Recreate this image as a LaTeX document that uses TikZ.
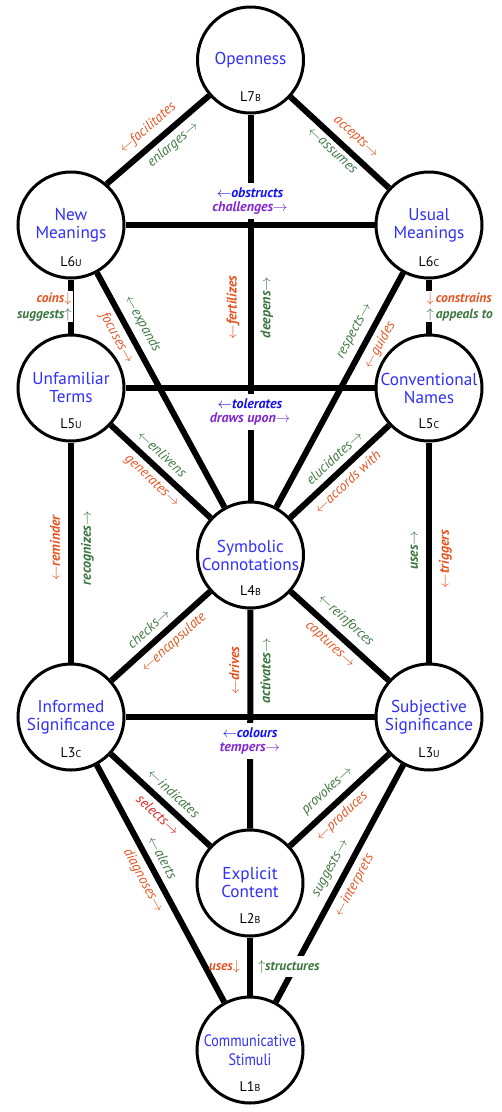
\documentclass[tikz,border=0pt]{standalone}
\usepackage{fontspec}
\setmainfont{PT Sans}
\newfontfamily\narrowfont[FakeStretch=0.85]{PT Sans}
\definecolor{tblue}{RGB}{48,48,250}
\definecolor{orng}{RGB}{232,84,32}
\definecolor{redd}{RGB}{228,28,28}
\definecolor{grn}{RGB}{60,118,62}
\definecolor{blu}{RGB}{20,20,240}
\definecolor{purp}{RGB}{130,40,210}
\newcommand{\arL}{$\leftarrow$}
\newcommand{\arR}{$\rightarrow$}
\newcommand{\arU}{$\uparrow$}
\newcommand{\arD}{$\downarrow$}
\newcommand{\lv}[2]{L#1{\fontsize{10}{10}\selectfont #2}}
\tikzset{
  circ/.style={circle, draw=black, line width=3pt, fill=white, minimum size=106pt, inner sep=0pt, align=center, text=tblue, font=\fontsize{17.2}{18}\selectfont},
  lvl/.style={inner sep=0pt, font=\fontsize{14}{14}\selectfont},
  conn/.style={line width=6pt},
  dl/.style={sloped, inner sep=1pt, font=\itshape\fontsize{14}{14}\selectfont},
  vl/.style={sloped, inner sep=1pt, font=\bfseries\itshape\fontsize{14}{14}\selectfont},
  hl/.style={inner xsep=1pt, inner ysep=4.5pt, fill=white, align=center, font=\bfseries\itshape\fontsize{14}{14}\selectfont},
  sl/.style={inner xsep=1pt, inner ysep=1pt, font=\bfseries\itshape\fontsize{13.5}{16}\selectfont}
}
\begin{document}
\begin{tikzpicture}[x=1pt,y=1pt]
\useasboundingbox (0,0) rectangle (502,-1112);
\fill[white] (0,0) rectangle (502,-1112);
% circles
\node[circ] (L7) at (250.5,-60) {Openness};
\node[circ] (L6u) at (71,-225) {New\\Meanings};
\node[circ] (L6c) at (429,-225) {Usual\\Meanings};
\node[circ] (L5u) at (71,-388) {Unfamiliar\\Terms};
\node[circ] (L5c) at (429,-388) {Conventional\\Names};
\node[circ] (L4) at (250.5,-555) {Symbolic\\Connotations};
\node[circ] (L3c) at (71,-717) {Informed\\Significance};
\node[circ] (L3u) at (429,-717) {Subjective\\Significance};
\node[circ] (L2) at (250,-883) {Explicit\\Content};
\node[circ, font=\narrowfont\fontsize{16.5}{18.5}\selectfont] (L1) at (250,-1050) {Communicative\\Stimuli};
% level labels
\node[lvl] (L7l) at (250.5,-97) {\lv{7}{B}};
\node[lvl] (L6ul) at (71,-262) {\lv{6}{U}};
\node[lvl] (L6cl) at (429,-262) {\lv{6}{C}};
\node[lvl] (L5ul) at (71,-424) {\lv{5}{U}};
\node[lvl] (L5cl) at (429,-424) {\lv{5}{C}};
\node[lvl] (L4l) at (250.5,-591) {\lv{4}{B}};
\node[lvl] (L3cl) at (71,-753) {\lv{3}{C}};
\node[lvl] (L3ul) at (429,-753) {\lv{3}{U}};
\node[lvl] (L2l) at (250,-919) {\lv{2}{B}};
\node[lvl] (L1l) at (250,-1087) {\lv{1}{B}};
% central verticals
\draw[conn] (L4) -- (L7)
  node[vl, pos=0.5, above=7pt, text=orng] {\arL fertilizes}
  node[vl, pos=0.5, below=6pt, text=grn] {deepens\arR};
\draw[conn] (L2) -- (L4)
  node[vl, pos=0.72, above=7pt, text=orng] {\arL drives}
  node[vl, pos=0.72, below=6pt, text=grn] {activates\arR};
% horizontals
\draw[conn] (L6u) -- (L6c)
  node[hl, pos=0.5, above=3pt] {\textcolor{blu}{\arL obstructs}\\\textcolor{purp}{challenges\arR}};
\draw[conn] (L5u) -- (L5c)
  node[hl, pos=0.5, below=3pt] {\textcolor{blu}{\arL tolerates}\\\textcolor{purp}{draws upon\arR}};
\draw[conn] (L3c) -- (L3u)
  node[hl, pos=0.5, below=3pt] {\textcolor{blu}{\arL colours}\\\textcolor{purp}{tempers\arR}};
% diagonals
\draw[conn] (L6u.49) -- (L7)
  node[dl, pos=0.50, above=5pt, text=orng] {\arL facilitates}
  node[dl, pos=0.56, below=3.5pt, text=grn] {enlarges\arR};
\draw[conn] (L7) -- (L6c)
  node[dl, pos=0.56, above=5pt, text=orng] {accepts\arR}
  node[dl, pos=0.50, below=3.5pt, text=grn] {\arL assumes};
\draw[conn] (L6u) -- (L4)
  node[dl, pos=0.25, above=5pt, text=grn] {\arL expands}
  node[dl, pos=0.25, below=3.5pt, text=orng] {focuses\arR};
\draw[conn] (L4) -- (L6c)
  node[dl, pos=0.72, above=5pt, text=grn] {respects\arR}
  node[dl, pos=0.72, below=3.5pt, text=orng] {\arL guides};
\draw[conn] (L5u) -- (L4)
  node[dl, pos=0.42, above=5pt, text=grn] {\arL enlivens}
  node[dl, pos=0.50, below=3.5pt, text=orng] {generates\arR};
\draw[conn] (L4) -- (L5c)
  node[dl, pos=0.54, above=5pt, text=grn] {elucidates\arR}
  node[dl, pos=0.49, below=3.5pt, text=orng] {\arL accords with};
\draw[conn] (L3c) -- (L4)
  node[dl, pos=0.47, above=5pt, text=grn] {checks\arR}
  node[dl, pos=0.54, below=3.5pt, text=orng] {\arL encapsulate};
\draw[conn] (L4) -- (L3u)
  node[dl, pos=0.455, above=5pt, text=grn] {\arL reinforces}
  node[dl, pos=0.49, below=3.5pt, text=orng] {captures\arR};
\draw[conn] (L3c) -- (L2)
  node[dl, pos=0.54, above=5pt, text=grn] {\arL indicates}
  node[dl, pos=0.56, below=3.5pt, text=redd] {selects\arR};
\draw[conn] (L2) -- (L3u)
  node[dl, pos=0.48, above=5pt, text=grn] {provokes\arR}
  node[dl, pos=0.43, below=3.5pt, text=orng] {\arL produces};
\draw[conn] (L3c) -- (L1)
  node[dl, pos=0.42, above=5pt, text=grn] {\arL alerts}
  node[dl, pos=0.46, below=3.5pt, text=orng] {diagnoses\arR};
\draw[conn] (L1) -- (L3u)
  node[dl, pos=0.535, above=5pt, text=grn] {suggests\arR}
  node[dl, pos=0.52, below=3.5pt, text=orng] {\arL interprets};
% side verticals
\draw[conn] (L6u) -- (L5u)
  node[sl, fill=white, pos=0.5, anchor=east, xshift=4.5pt, align=right] {\textcolor{orng}{coins\arD}\\\textcolor{grn}{suggests\arU}};
\draw[conn] (L6c) -- (L5c)
  node[sl, fill=white, pos=0.5, anchor=west, xshift=-6.5pt, align=left] {\textcolor{orng}{\arD\,constrains}\\\textcolor{grn}{\arU\,appeals to}};
\draw[conn] (L3c) -- (L5u)
  node[vl, pos=0.52, above=7pt, text=orng] {\arL reminder}
  node[vl, pos=0.52, below=6pt, text=grn] {recognizes\arR};
\draw[conn] (L3u) -- (L5c)
  node[vl, pos=0.51, above=7pt, text=grn] {uses\arR}
  node[vl, pos=0.47, below=6pt, text=orng] {\arL triggers};
% bottom vertical
\draw[conn] (L2) -- (L1)
  node[sl, pos=0.5, anchor=east, xshift=-6pt, text=orng] {uses\arD}
  node[sl, fill=white, inner ysep=4pt, pos=0.5, anchor=west, xshift=4pt, text=grn] {\arU structures};
\end{tikzpicture}
\end{document}
